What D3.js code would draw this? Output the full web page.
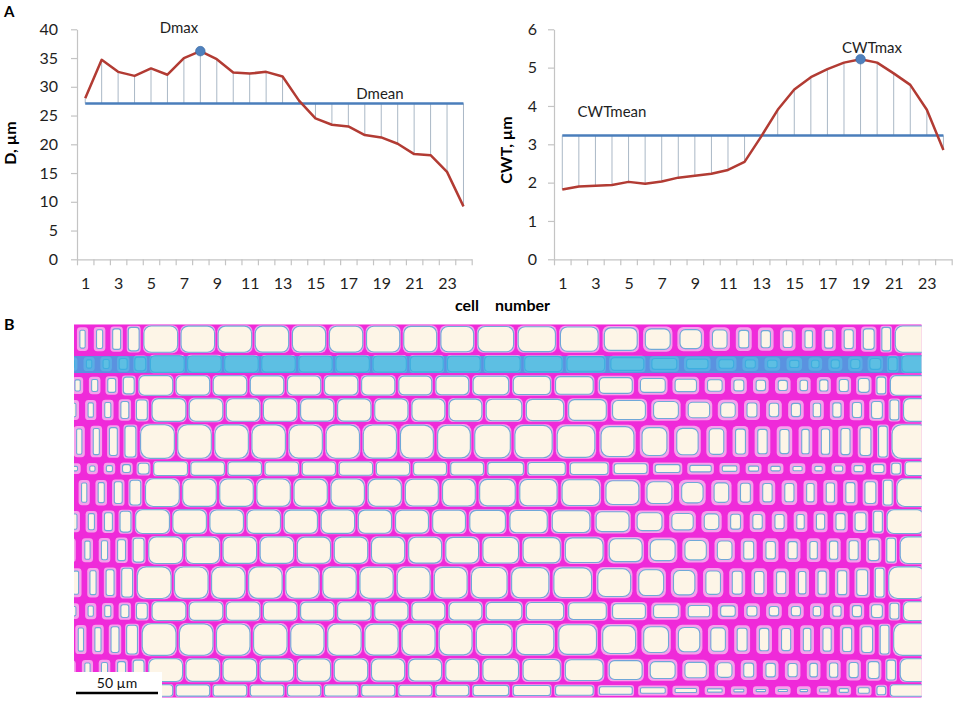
<!DOCTYPE html>
<html>
<head>
<meta charset="utf-8">
<script src="https://cdn.jsdelivr.net/npm/d3@7"></script>
<style>
  body { margin: 0; background: #fff; }
  svg { display: block; }
  text { font-family: Lato, "Open Sans", sans-serif; }
</style>
</head>
<body>
<div id="fig"></div>
<script>
//// DATA: cell number, lumen diameter D (µm) and cell wall thickness CWT (µm)
const cells = [1, 2, 3, 4, 5, 6, 7, 8, 9, 10, 11, 12, 13, 14, 15, 16, 17, 18, 19, 20, 21, 22, 23, 24]
const cellTicks = [1, 3, 5, 7, 9, 11, 13, 15, 17, 19, 21, 23]
const dValues = [28.0, 34.7, 32.6, 31.9, 33.2, 32.1, 35.0, 36.2, 34.8, 32.5, 32.3, 32.6,
                 31.8, 27.6, 24.5, 23.4, 23.1, 21.6, 21.2, 20.1, 18.3, 18.1, 15.2, 9.2]
const cwtValues = [1.82, 1.90, 1.92, 1.94, 2.02, 1.97, 2.03, 2.13, 2.18, 2.23, 2.33, 2.54,
                   3.20, 3.90, 4.43, 4.75, 4.96, 5.13, 5.22, 5.13, 4.85, 4.55, 3.90, 2.85]
const dMean = 27.1
const cwtMean = 3.23
const dTicks = [0, 5, 10, 15, 20, 25, 30, 35, 40]
const cwtTicks = [0, 1, 2, 3, 4, 5, 6]

//// MICROGRAPH (B): sizes in µm, read against the 50 µm scale bar
const photoRowsUm = [18.1, 12.2, 14.0, 15.9, 22.6, 10.4, 18.9, 16.5, 18.3, 21.3, 13.4, 21.3, 15.9, 9.0]
const rayRow = 1
const rowShiftUm = [0, 4, -3, 5, -2, 6, 1, -5, 3, -4, 5, -1, 3, -3]
const ringCellUm = [22.6, 22.6, 22.6, 22.6, 22.6, 22.6, 22.6, 22.6, 22.6, 24.4, 25.6, 26.2,
                    24.4, 20.7, 19.5, 15.9, 13.4, 13.4, 13.4, 12.2, 12.2, 12.2, 12.2, 9.1]
const prevLatewoodUm = [10.4, 10.4, 10.4, 10.4, 10.4]
const nextEarlywoodUm = [24.4, 24.4]
const scaleBarUm = 50

const W = 957, H = 705
const svg = d3.select('#fig').append('svg').attr('width', W).attr('height', H)

//// PANEL A: two line charts
function panel(opt) {
  const x = d3.scaleLinear().domain([0.5, 24.5]).range([opt.left, opt.right])
  const y = d3.scaleLinear().domain([0, opt.yMax]).range([259.3, 29.3])
  const g = svg.append('g')

  // ticks on the category boundaries
  g.append('g')
    .attr('transform', `translate(0,${y(0)})`)
    .call(d3.axisBottom(x).tickValues(d3.range(0.5, 24.6, 1)).tickFormat('').tickSize(6).tickSizeOuter(0))
  // labels on the odd cells
  g.append('g')
    .attr('class', 'lab')
    .attr('transform', `translate(0,${y(0)})`)
    .call(d3.axisBottom(x).tickValues(cellTicks).tickSize(0).tickPadding(18))
    .call(a => a.select('.domain').remove())
  g.append('g')
    .attr('class', 'lab')
    .attr('transform', `translate(${opt.left},0)`)
    .call(d3.axisLeft(y).tickValues(opt.yTicks).tickFormat(d3.format('d'))
      .tickSize(6).tickSizeOuter(0).tickPadding(opt.pad))

  g.selectAll('.domain, .tick line').attr('stroke', '#c4c4c4').attr('stroke-width', 1.2)
  g.selectAll('.lab text').attr('font-family', 'Lato, sans-serif').attr('font-size', 16).attr('fill', '#1e1e1e')

  // drop lines from the mean
  g.selectAll('line.drop')
    .data(opt.values)
    .join('line')
    .attr('class', 'drop')
    .attr('x1', (d, i) => x(cells[i]))
    .attr('x2', (d, i) => x(cells[i]))
    .attr('y1', y(opt.mean))
    .attr('y2', d => y(d))
    .attr('stroke', '#aab8c6')
    .attr('stroke-width', 1)

  g.append('line')
    .attr('x1', x(cells[0])).attr('x2', x(cells[cells.length - 1]))
    .attr('y1', y(opt.mean)).attr('y2', y(opt.mean))
    .attr('stroke', '#4a7ebb').attr('stroke-width', 2.5)

  g.append('path')
    .datum(opt.values)
    .attr('fill', 'none')
    .attr('stroke', '#b23b33')
    .attr('stroke-width', 2.5)
    .attr('stroke-linejoin', 'round')
    .attr('d', d3.line().x((d, i) => x(cells[i])).y(d => y(d)))

  const iMax = d3.maxIndex(opt.values)
  g.append('circle')
    .attr('cx', x(cells[iMax])).attr('cy', y(opt.values[iMax]))
    .attr('r', 4.8)
    .attr('fill', '#4f81bd').attr('stroke', '#3a6aa3').attr('stroke-width', 0.6)

  g.append('text').attr('x', opt.maxLab[0]).attr('y', opt.maxLab[1])
    .attr('text-anchor', 'middle').attr('font-size', 15).attr('fill', '#1e1e1e').text(opt.maxText)
  g.append('text').attr('x', opt.meanLab[0]).attr('y', opt.meanLab[1])
    .attr('text-anchor', 'middle').attr('font-size', 15).attr('fill', '#1e1e1e').text(opt.meanText)

  g.append('text')
    .attr('transform', `translate(${opt.titleX},${opt.titleY}) rotate(-90)`)
    .attr('text-anchor', 'middle').attr('font-size', 16).attr('font-weight', 'bold')
    .text(opt.title)
}

panel({ left: 77, right: 471.7, yMax: 40, yTicks: dTicks, pad: 13, values: dValues, mean: dMean,
        maxText: 'Dmax', maxLab: [179, 33], meanText: 'Dmean', meanLab: [380, 99],
        title: 'D, µm', titleX: 16, titleY: 143 })
panel({ left: 554, right: 951.7, yMax: 6, yTicks: cwtTicks, pad: 11, values: cwtValues, mean: cwtMean,
        maxText: 'CWTmax', maxLab: [872, 53], meanText: 'CWTmean', meanLab: [612, 117],
        title: 'CWT, µm', titleX: 512, titleY: 150 })

svg.append('text').attr('x', 455).attr('y', 311).attr('font-size', 16).attr('font-weight', 'bold').text('cell')
svg.append('text').attr('x', 495).attr('y', 311).attr('font-size', 16).attr('font-weight', 'bold').text('number')

svg.append('text').attr('x', 4).attr('y', 17).attr('font-family', 'Liberation Sans, Arial, sans-serif')
  .attr('font-size', 15).attr('font-weight', 'bold').text('A')
svg.append('text').attr('x', 4).attr('y', 330).attr('font-family', 'Liberation Sans, Arial, sans-serif')
  .attr('font-size', 16).attr('font-weight', 'bold').text('B')

//// PANEL B: micrograph of the ring, drawn cell by cell
const um = d3.scaleLinear().domain([0, scaleBarUm]).range([0, 82])
// wall thickness drawn in the photo, from the measured CWT
const wallUm = d3.scaleLinear().domain([1.8, 5.2]).range([1.0, 3.9])
const photoW = 847.7, photoH = 373.4
const photo = svg.append('g').attr('transform', 'translate(74,324.3)')
svg.append('defs').append('clipPath').attr('id', 'clipPhoto')
  .append('rect').attr('width', photoW).attr('height', photoH)
photo.attr('clip-path', 'url(#clipPhoto)')

photo.append('rect').attr('width', photoW).attr('height', photoH).attr('fill', '#ef2ad9')

const rowSeq = [].concat(
  prevLatewoodUm.map((w, i) => ({ w: w, wall: cwtValues[19 + i] })),
  ringCellUm.map((w, i) => ({ w: w, wall: cwtValues[i] })),
  nextEarlywoodUm.map(w => ({ w: w, wall: cwtValues[0] }))
)

let yUm = 0
const cellData = []
photoRowsUm.forEach((h, r) => {
  let xUm = rowShiftUm[r] - prevLatewoodUm[0]
  rowSeq.forEach(c => {
    cellData.push({ x: xUm, y: yUm, w: c.w, h: h, t: wallUm(c.wall), row: r })
    xUm += c.w
  })
  yUm += h
})

const cellG = photo.selectAll('g.cell').data(cellData).join('g').attr('class', 'cell')
cellG.append('rect')
  .attr('x', d => um(d.x + d.t * 0.5)).attr('y', d => um(d.y + d.t * 0.5))
  .attr('width', d => Math.max(1, um(d.w - d.t))).attr('height', d => Math.max(1, um(d.h - d.t)))
  .attr('rx', d => um(Math.min(d.w, d.h)) * 0.2)
  .attr('fill', '#f5a2ec')
cellG.append('rect')
  .attr('x', d => um(d.x + d.t)).attr('y', d => um(d.y + d.t))
  .attr('width', d => Math.max(1, um(d.w - 2 * d.t))).attr('height', d => Math.max(1, um(d.h - 2 * d.t)))
  .attr('rx', d => Math.max(0.5, um(Math.min(d.w - 2 * d.t, d.h - 2 * d.t)) * 0.28))
  .attr('fill', '#fdf5e7')
  .attr('stroke', '#4e9fd3').attr('stroke-width', 1.1).attr('stroke-opacity', 0.8)

// ray band (blue)
const rayTop = d3.sum(photoRowsUm.slice(0, rayRow))
photo.append('rect')
  .attr('x', 0).attr('y', um(rayTop) + 2).attr('width', photoW).attr('height', um(photoRowsUm[rayRow]) - 3)
  .attr('fill', '#30b0e2').attr('opacity', 0.78)

// scale bar
const bar = svg.append('g').attr('transform', 'translate(74,672)')
bar.append('rect').attr('width', 88).attr('height', 26).attr('fill', '#fff')
bar.append('text').attr('x', 43).attr('y', 16).attr('text-anchor', 'middle').attr('font-size', 14)
  .attr('font-family', 'DejaVu Sans, sans-serif').attr('fill', '#111').text(`${scaleBarUm} µm`)
bar.append('line').attr('x1', 2).attr('x2', 2 + um(scaleBarUm)).attr('y1', 21).attr('y2', 21)
  .attr('stroke', '#000').attr('stroke-width', 2.5)
</script>
</body>
</html>
